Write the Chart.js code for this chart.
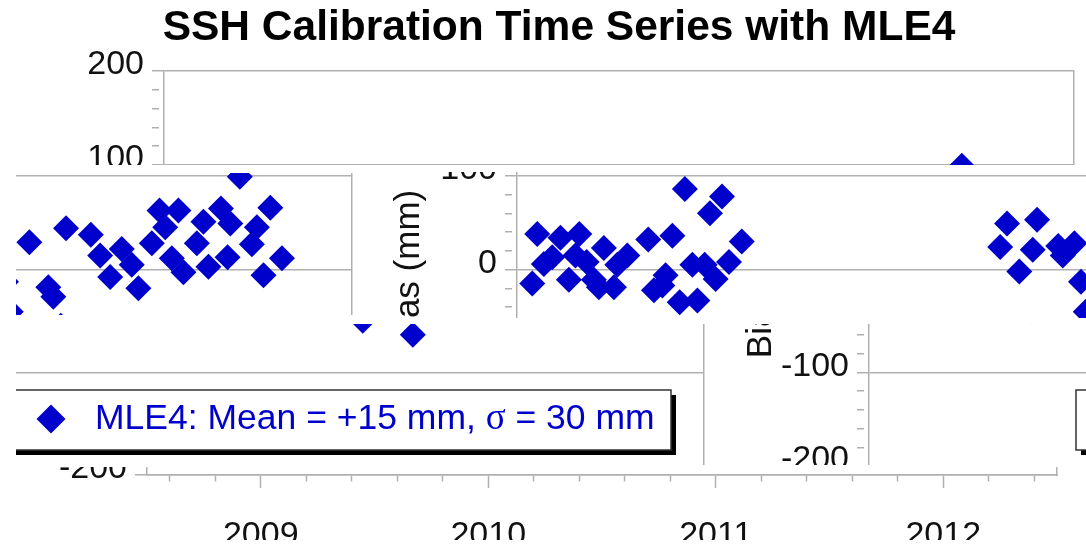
<!DOCTYPE html>
<html>
<head>
<meta charset="utf-8">
<script src="https://cdn.jsdelivr.net/npm/chart.js@4.4.1/dist/chart.umd.min.js"></script>
<style>
  html, body { margin: 0; padding: 0; background: #fff; }
  #page { position: relative; width: 1086px; height: 545px; overflow: hidden; background: #fff; }
  .tile { position: absolute; overflow: hidden; background: #fff; }
  .tile canvas { position: absolute; }
</style>
</head>
<body>
<div id="page"></div>
<script>
const chartTitle = "SSH Calibration Time Series with MLE4";
const axisTitle = "Bias (mm)";
const seriesLabel = "MLE4: Mean = +15 mm, \u03c3 = 30 mm";
const yearLabels = [2009, 2010, 2011, 2012];

const sampleYears = [
  2008.567, 2008.589, 2008.618, 2008.655, 2008.691, 2008.728, 2008.757, 2008.774,
  2008.806, 2008.838, 2008.860, 2008.882, 2008.926, 2008.941, 2008.985, 2009.077,
  2009.102, 2009.139, 2009.153, 2009.183, 2009.215, 2009.238, 2009.271, 2009.293,
  2009.325, 2009.348, 2009.373, 2009.401, 2009.432, 2009.488,
  2010.624, 2010.654, 2010.708, 2010.767, 2010.786, 2010.879, 2010.899, 2010.950,
  2010.979, 2011.000,
  2011.082, 2011.165, 2011.187, 2011.220, 2011.243, 2011.352, 2011.393, 2011.437,
  2011.488, 2011.532, 2011.561, 2011.620, 2011.654, 2011.679, 2011.708, 2011.737,
  2011.759, 2011.818, 2011.847, 2011.869, 2011.924, 2011.953, 2011.965, 2012.007,
  2012.060, 2012.082, 2012.111, 2012.141, 2012.192
];
const biasMm = [
  -15, 38, 6, 13, 34, -11, 15, 38,
  8, -11, -19, 23, -19, 5, 15, 32,
  -22, -17, -6, 36, -35, 86, 5, -33,
  5, 60, -10, 78, 8, 30,
  24, 49, -2, 21, 53, 25, 15, 28,
  -13, -45,
  29, -19, -29, -60, 44, 37, 15, -8,
  22, 5, -20, 28, 63, 45, 12, 63,
  -3, 28, 51, 3, 65, 13, 49, 99,
  27, 45, -6, 66, 12
];

const BLUE = "#0000cc";
const GRAY = "#b0b0b0";
const FONT = "'Liberation Sans', Arial, Helvetica, sans-serif";
const SERIF = "'Liberation Serif', 'Times New Roman', serif";

// minor ticks every 0.2 year inside 2008.5 .. 2012.5
let minorTicks = [];
for (let k = 0; k < 20; k++) {
  minorTicks.push(Math.round((2008.6 + 0.2 * k) * 10) / 10);
}

function isWholeYear(v) {
  return Math.abs(v - Math.round(v)) < 1e-6;
}

// boxed legend with a drop shadow, placed inside the plot
const boxLegend = {
  id: "boxLegend",
  afterDatasetsDraw(chart) {
    const ctx = chart.ctx;
    const a = chart.chartArea;
    const ds = chart.data.datasets[0];
    const left = a.left + 207, right = a.right - 33;
    const top = a.bottom - 76, bottom = a.bottom - 16;
    ctx.save();
    ctx.fillStyle = "#000";
    ctx.fillRect(left + 5, top + 5, right - left, bottom - top);
    ctx.fillStyle = "#fff";
    ctx.fillRect(left, top, right - left, bottom - top);
    ctx.strokeStyle = "#333";
    ctx.lineWidth = 1.5;
    ctx.strokeRect(left, top, right - left, bottom - top);

    const mx = left + 50, my = top + 29, r = 14.5;
    ctx.fillStyle = ds.backgroundColor;
    ctx.beginPath();
    ctx.moveTo(mx - r, my);
    ctx.lineTo(mx, my - r);
    ctx.lineTo(mx + r, my);
    ctx.lineTo(mx, my + r);
    ctx.closePath();
    ctx.fill();

    // label, with the sigma set in a serif face like the original
    ctx.textBaseline = "alphabetic";
    ctx.textAlign = "left";
    let x = left + 94;
    const y = top + 39;
    const parts = ds.label.split("\u03c3");
    ctx.font = "35.5px " + FONT;
    ctx.fillText(parts[0], x, y);
    x += ctx.measureText(parts[0]).width;
    if (parts.length > 1) {
      ctx.font = "37px " + SERIF;
      ctx.fillText("\u03c3", x, y);
      x += ctx.measureText("\u03c3").width;
      ctx.font = "35.5px " + FONT;
      ctx.fillText(parts[1], x, y);
    }
    ctx.restore();
  },
};

function buildChart(canvas) {
  return new Chart(canvas, {
    type: "scatter",
    data: {
      datasets: [
        {
          label: seriesLabel,
          data: sampleYears.map((x, i) => ({ x: x, y: biasMm[i] })),
          backgroundColor: BLUE,
          borderWidth: 0,
          pointStyle: "rectRot",
          pointRadius: 13,
          pointHoverRadius: 13,
        },
      ],
    },
    options: {
      responsive: false,
      animation: false,
      devicePixelRatio: 1,
      events: [],
      layout: { padding: { left: 44, right: 16, top: 0, bottom: 0 } },
      plugins: {
        legend: { display: false },
        tooltip: { enabled: false },
        title: {
          display: true,
          text: chartTitle,
          color: "#000",
          font: { family: FONT, size: 42.5, weight: "bold", lineHeight: 1.2 },
          padding: { top: 3, bottom: 17 },
        },
      },
      scales: {
        x: {
          type: "linear",
          min: 2008.5,
          max: 2012.5,
          afterBuildTicks: (s) => {
            s.ticks = minorTicks.map((v) => ({ value: v }));
          },
          ticks: {
            autoSkip: false,
            maxRotation: 0,
            color: "#111",
            padding: 27,
            font: { family: FONT, size: 34 },
            callback: (v) =>
              isWholeYear(v) && yearLabels.includes(Math.round(v)) ? String(Math.round(v)) : "",
          },
          grid: {
            drawOnChartArea: false,
            tickLength: 13,
            tickColor: GRAY,
            tickWidth: 1.5,
            tickBorderDash: (c) => (isWholeYear(c.tick.value) ? [] : [6, 60]),
          },
          border: { display: true, color: GRAY, width: 1.5 },
          afterFit: (s) => {
            s.height = 89;
            s.paddingLeft = 0;
            s.paddingRight = 0;
          },
        },
        y: {
          min: -200,
          max: 200,
          ticks: {
            stepSize: 20,
            autoSkip: false,
            color: "#111",
            padding: 8,
            font: { family: FONT, size: 34, lineHeight: 0.35 },
            callback: (v) => (v % 100 === 0 ? [String(v), ""] : ""),
          },
          grid: {
            color: (c) => (c.tick.value % 100 === 0 ? GRAY : "rgba(0,0,0,0)"),
            lineWidth: 1.5,
            tickLength: 12,
            tickColor: GRAY,
            tickWidth: 1.5,
            tickBorderDash: (c) => (c.tick.value % 100 === 0 ? [] : [7, 60]),
          },
          border: { display: true, color: GRAY, width: 1.5 },
          title: {
            display: true,
            text: axisTitle,
            color: "#111",
            font: { family: FONT, size: 35, lineHeight: 0.7 },
            padding: 0,
          },
          afterFit: (s) => {
            s.width = 120;
            s.paddingTop = 0;
            s.paddingBottom = 0;
          },
        },
        y2: {
          position: "right",
          min: -200,
          max: 200,
          ticks: { display: false },
          grid: { display: false },
          border: { display: true, color: GRAY, width: 1.5 },
          afterFit: (s) => {
            s.width = 0;
            s.paddingTop = 0;
            s.paddingBottom = 0;
          },
        },
      },
    },
    plugins: [boxLegend],
  });
}

// the picture is a patchwork of shifted crops of one chart:
// each tile is a page window (x, y, w, h) and the page position of the chart (dx, dy)
const tiles = [
  { x: 0, y: 0, w: 1086, h: 165, dx: 0, dy: 0 },
  { x: 16, y: 173, w: 337, h: 142, dx: -722, dy: 11 },
  { x: 353, y: 172, w: 733, h: 146, dx: 353, dy: 11 },
  { x: 16, y: 324, w: 689, h: 141, dx: -370, dy: 20 },
  { x: 705, y: 324, w: 381, h: 141, dx: 705, dy: 20 },
  { x: 0, y: 467, w: 1086, h: 73, dx: -17, dy: 29 },
];

let page = document.getElementById("page");
for (let i = 0; i < tiles.length; i++) {
  let t = tiles[i];
  let div = document.createElement("div");
  div.className = "tile";
  div.style.left = t.x + "px";
  div.style.top = t.y + "px";
  div.style.width = t.w + "px";
  div.style.height = t.h + "px";
  let canvas = document.createElement("canvas");
  canvas.width = 1090;
  canvas.height = 535;
  canvas.style.width = "1090px";
  canvas.style.height = "535px";
  canvas.style.left = t.dx - t.x + "px";
  canvas.style.top = t.dy - t.y + "px";
  div.appendChild(canvas);
  page.appendChild(div);
  buildChart(canvas);
}
</script>
</body>
</html>
